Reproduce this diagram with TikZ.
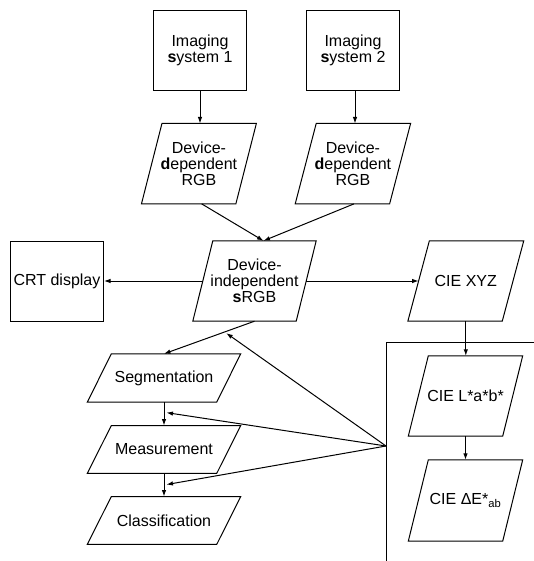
\documentclass[tikz,border=0pt]{standalone}
\usepackage{fontspec}
\setmainfont{Liberation Sans}
\usetikzlibrary{arrows.meta,calc}
\begin{document}
\begin{tikzpicture}[x=1pt,y=-1pt,
  every node/.style={font=\fontsize{16}{15.9}\selectfont, align=center, inner sep=0pt},
  box/.style={draw, rectangle, line width=1pt, minimum width=93pt, minimum height=80pt},
  pgbig/.style={rectangle, minimum height=80pt},
  pgsmall/.style={rectangle, minimum width=129pt, minimum height=47.5pt},
  edge/.style={line width=1pt, line join=miter},
  arr/.style={-{Latex[length=6.5pt,width=4.5pt]}, line width=1pt}]
\useasboundingbox (0,0) rectangle (534,561);
% nodes
\node[box] (is1) at (200,50.5) {Imaging\\\textbf{s}ystem 1};
\node[box] (is2) at (353,50.5) {Imaging\\\textbf{s}ystem 2};
\node[pgbig, minimum width=94pt] (dd1) at (198.9,163.7) {Device-\\\textbf{d}ependent\\RGB};
\node[pgbig, minimum width=94pt] (dd2) at (352.9,163.7) {Device-\\\textbf{d}ependent\\RGB};
\node[pgbig, minimum width=103pt] (si) at (254.5,281) {Device-\\independent\\\textbf{s}RGB};
\node[box] (crt) at (57,281) {CRT display};
\node[pgbig, minimum width=94pt] (xyz) at (465.8,281) {CIE XYZ};
\node[pgbig, minimum width=94pt] (lab) at (465.5,396) {CIE L*a*b*};
\node[pgbig, minimum width=94pt, minimum height=81pt] (de) at (465.5,500.5) {CIE ΔE*\textsubscript{ab}};
\node[pgsmall, minimum height=48pt] (seg) at (164,378) {Segmentation};
\node[pgsmall] (meas) at (164,449.5) {Measurement};
\node[pgsmall] (cls) at (164,520.5) {Classification};
% parallelogram outlines
\foreach \n/\h in {dd1/10.25, dd2/10.5, si/10, xyz/10.75, lab/10, de/10, seg/12, meas/12, cls/12}
  \draw[edge] ([xshift=-\h pt]\n.south west) -- ([xshift=-\h pt]\n.south east)
     -- ([xshift=\h pt]\n.north east) -- ([xshift=\h pt]\n.north west) -- cycle;
% big open box
\coordinate (bxbl) at (386,561);
\coordinate (bxtl) at (386,342);
\coordinate (bxtr) at (534,342);
\coordinate (apex) at (386,446);
\draw[edge] (bxbl) -- (bxtl) -- (bxtr);
% connectors
\draw[arr] (is1.south) -- (is1.south |- dd1.north);
\draw[arr] ([xshift=2pt]is2.south) -- ([xshift=2pt]is2.south |- dd2.north);
\draw[arr] ([xshift=2.8pt]dd1.south) -- ([xshift=9pt]si.north);
\draw[arr] ([xshift=1pt]dd2.south) -- ([xshift=9pt]si.north);
\draw[arr] (si) -- (crt);
\draw[arr] (si) -- (xyz);
\draw[arr] (xyz.south) -- (xyz.south |- lab.north);
\draw[arr] (lab) -- (de);
\draw[arr] (si.south) -- (seg.north);
\draw[arr] (seg) -- (meas);
\draw[arr] (meas) -- (cls);
\coordinate (t1) at ($(si.south)!0.33!(seg.north)$);
\coordinate (t2) at ($(seg.south)!0.43!(meas.north)$);
\coordinate (t3) at ($(meas.south)!0.5!(cls.north)$);
\draw[arr, shorten >=2pt] (apex) -- (t1);
\draw[arr, shorten >=2.5pt] (apex) -- (t2);
\draw[arr, shorten >=2.5pt] (apex) -- (t3);
\end{tikzpicture}
\end{document}
